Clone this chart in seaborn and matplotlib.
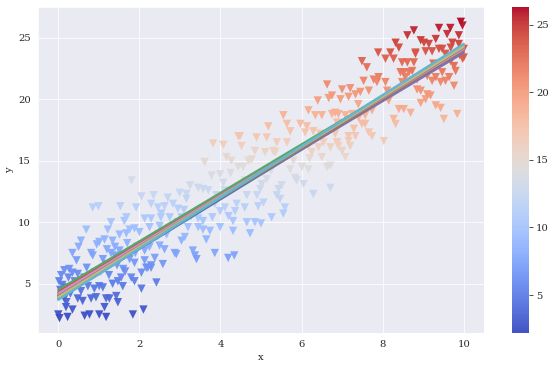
import numpy as np
import matplotlib
matplotlib.use("Agg")
import matplotlib.pyplot as plt
import seaborn as sns

# scatter points (x, y); colour follows y
x_vals = [
    0.00, 0.05, 0.02, 0.07, 0.10, 0.15, 0.15, 0.19, 0.23, 0.27, 0.35, 0.35, 0.35, 0.45, 0.48, 0.48,
    0.56, 0.56, 0.64, 0.69, 0.73, 0.77, 0.81, 0.81, 0.85, 0.85, 0.89, 0.93, 0.99, 0.30, 0.12, 0.60,
    0.40, 0.25, 0.70, 0.90, 0.95, 0.20, 0.65, 0.50, 0.03, 0.17,
    1.01, 1.14, 1.34, 1.01, 1.10, 1.10, 1.18, 1.18, 1.01, 1.18, 1.14, 1.22, 1.26, 1.30, 1.34, 1.39,
    1.43, 1.47, 1.47, 1.51, 1.51, 1.53, 1.59, 1.59, 1.63, 1.68, 1.68, 1.76, 1.76, 1.80, 1.81, 1.84,
    1.88, 1.88, 1.88, 1.92, 1.05, 1.25, 1.40, 1.60, 1.70, 1.95, 1.30, 1.45, 1.55, 1.90, 1.20, 1.65,
    2.05, 2.17, 2.29, 2.13, 2.25, 2.05, 2.13, 2.29, 2.42, 2.21, 2.38, 2.58, 2.50, 2.62, 2.87, 2.91,
    2.46, 2.67, 2.25, 2.50, 2.29, 2.53, 2.75, 2.62, 2.83, 2.95, 2.29, 2.46, 2.54, 2.05, 2.13, 2.00,
    2.10, 2.35, 2.70,
    3.32, 3.37, 3.41, 3.86, 3.04, 3.12, 3.20, 3.45, 3.57, 3.74, 3.99, 2.99, 3.16, 3.16, 3.45, 3.57,
    3.70, 3.78, 3.99, 3.61, 3.82, 3.28, 3.45, 3.57, 3.04, 2.95, 3.86, 3.99, 3.25, 3.50, 3.90, 3.65,
    3.10, 3.80,
    4.19, 4.34, 4.31, 4.07, 4.07, 4.15, 4.27, 4.44, 4.44, 4.11, 4.36, 4.31, 4.20, 4.40, 4.65, 4.85,
    4.60, 4.93, 4.90, 4.65, 4.98, 4.56, 4.77, 4.69, 4.85, 4.52, 4.48, 4.89, 4.73, 4.10, 4.60, 4.25,
    5.26, 5.55, 5.59, 5.06, 5.39, 5.47, 5.43, 5.51, 5.84, 5.88, 5.72, 5.02, 5.14, 5.30, 5.35, 5.10,
    5.14, 5.39, 5.64, 5.18, 5.55, 5.64, 5.72, 5.97, 5.00, 5.80, 5.25,
    6.29, 6.71, 6.05, 6.01, 6.17, 6.63, 6.71, 6.13, 6.09, 6.29, 6.46, 6.54, 6.42, 6.17, 6.25, 6.17,
    6.34, 6.50, 6.75, 6.83, 6.63, 6.67, 6.75, 6.88, 6.83, 6.88, 6.71, 6.50, 6.20, 6.87, 6.91, 6.91,
    6.96, 6.40,
    7.08, 7.00, 7.20, 7.16, 7.16, 7.33, 7.29, 7.49, 7.57, 7.66, 7.74, 7.08, 7.25, 7.41, 7.57, 7.74,
    7.16, 7.33, 7.45, 7.66, 7.00, 7.20, 7.53, 7.78, 7.86, 7.90, 7.49, 7.61, 7.89, 7.40,
    8.03, 8.27, 8.32, 8.40, 8.52, 8.69, 8.94, 8.07, 8.11, 8.15, 8.07, 8.19, 8.27, 8.32, 8.40, 8.48,
    8.61, 8.77, 8.81, 8.44, 8.52, 8.65, 8.73, 8.85, 8.56, 8.48, 8.61, 8.77, 8.94, 8.81, 8.85, 8.94,
    9.51, 9.84, 9.06, 9.18, 9.31, 9.43, 9.02, 9.14, 9.31, 9.39, 9.59, 9.67, 9.39, 9.72, 9.88, 9.93,
    9.97, 9.06, 9.22, 9.47, 9.68, 9.88, 10.00, 9.55, 9.60, 9.68, 9.76, 9.80, 9.97, 10.00, 9.10, 9.22,
    9.31, 9.43, 9.55, 9.64, 9.76, 9.47, 9.10, 9.90, 9.25,
]
y_vals = [
    2.5, 4.5, 5.2, 5.7, 4.9, 6.1, 3.8, 3.1, 2.3, 6.2, 5.9, 2.9, 7.5, 6.9, 5.8, 3.8,
    4.4, 8.5, 5.5, 9.4, 4.8, 2.5, 7.5, 3.8, 7.3, 11.2, 4.6, 3.9, 11.3, 4.2, 4.0, 3.6,
    5.2, 5.5, 6.3, 5.9, 8.2, 3.5, 2.4, 8.0, 2.2, 4.7,
    8.4, 8.6, 8.5, 4.8, 4.7, 7.0, 6.6, 3.8, 2.5, 2.3, 3.1, 9.4, 3.8, 7.5, 5.0, 7.3,
    4.0, 5.2, 3.5, 7.7, 9.0, 11.3, 7.3, 4.8, 10.1, 10.4, 9.1, 7.0, 9.4, 5.5, 13.4, 2.5,
    9.5, 6.7, 5.2, 11.2, 6.0, 5.7, 8.0, 6.2, 8.3, 8.0, 10.0, 6.5, 5.5, 7.5, 7.8, 6.0,
    5.9, 6.3, 6.5, 7.7, 8.0, 4.6, 6.9, 6.3, 5.1, 6.3, 7.1, 6.6, 8.1, 7.8, 7.5, 7.4,
    8.9, 9.0, 9.6, 9.7, 10.3, 10.4, 10.4, 11.3, 11.5, 11.1, 11.5, 11.2, 10.7, 12.1, 10.3, 9.2,
    2.9, 12.2, 12.0,
    7.7, 7.3, 7.0, 7.5, 8.5, 8.8, 9.6, 9.6, 9.4, 9.3, 9.6, 12.4, 12.3, 11.9, 12.8, 12.7,
    12.6, 13.8, 13.9, 14.9, 16.4, 10.5, 10.3, 10.1, 10.4, 10.0, 11.5, 10.9, 13.0, 11.0, 12.2, 8.6,
    11.0, 10.4,
    7.1, 7.3, 10.1, 13.2, 16.3, 15.3, 15.0, 14.5, 17.0, 11.2, 10.9, 9.3, 10.5, 11.5, 10.0, 10.0,
    11.2, 11.3, 12.2, 12.2, 12.7, 14.5, 15.1, 15.0, 15.8, 16.2, 17.0, 16.9, 9.1, 12.6, 13.4, 14.0,
    10.4, 10.7, 11.2, 11.6, 12.2, 11.9, 12.7, 13.0, 13.6, 13.4, 14.3, 13.1, 13.5, 15.8, 15.7, 15.7,
    16.9, 16.5, 16.5, 17.8, 18.7, 18.0, 17.4, 18.0, 9.9, 15.0, 14.2,
    12.3, 12.8, 13.1, 14.5, 14.3, 14.5, 14.6, 17.8, 17.3, 17.4, 17.2, 16.5, 16.1, 16.2, 15.7, 19.1,
    18.7, 18.7, 18.8, 18.9, 21.2, 20.1, 20.3, 18.1, 17.2, 16.5, 16.1, 15.3, 15.2, 16.5, 16.2, 18.8,
    20.0, 19.9,
    15.3, 15.8, 16.2, 16.6, 17.0, 17.0, 17.6, 18.0, 18.0, 17.3, 17.0, 18.7, 18.8, 18.5, 18.7, 19.1,
    20.2, 20.4, 20.6, 20.7, 20.8, 20.9, 21.5, 21.6, 21.4, 21.8, 23.1, 22.6, 23.8, 19.6,
    16.6, 18.4, 18.0, 19.2, 19.2, 18.9, 19.7, 21.4, 20.7, 19.9, 23.3, 23.8, 23.3, 24.6, 24.2, 23.0,
    23.0, 23.0, 23.8, 22.2, 22.2, 22.2, 22.3, 21.6, 21.8, 21.4, 25.2, 25.6, 24.8, 23.7, 20.8, 20.7,
    18.4, 18.8, 20.0, 20.3, 19.5, 19.3, 24.6, 24.5, 24.9, 24.1, 25.3, 25.8, 25.8, 24.6, 25.2, 26.3,
    26.0, 23.9, 23.9, 24.1, 24.2, 24.5, 24.1, 23.7, 23.3, 23.1, 22.7, 22.3, 23.3, 23.4, 21.9, 21.5,
    21.8, 21.4, 21.5, 21.8, 21.1, 22.2, 20.4, 23.6, 22.9,
]

# fitted lines: value at x=0 and slope, one per palette colour
fit_intercepts = [3.80, 4.00, 4.50, 4.30, 4.10, 4.00, 4.20, 4.00, 3.90, 3.70]
fit_slopes = [2.02, 2.01, 1.97, 1.97, 1.97, 2.00, 1.99, 2.02, 2.04, 2.08]

sns.set_style("darkgrid")
plt.rcParams['font.family'] = ['DejaVu Serif']
plt.rcParams['font.size'] = 10

fig = plt.figure(figsize=(557 / 72, 367 / 72), dpi=72)
ax = fig.add_axes([38 / 557, 34 / 367, 446 / 557, 326 / 367])
cax = fig.add_axes([512 / 557, 34 / 367, 17 / 557, 326 / 367])

x = np.array(x_vals)
y = np.array(y_vals)
sc = ax.scatter(x, y, c=y, cmap='coolwarm', marker='v', s=70, linewidths=0, alpha=0.95)

palette = sns.color_palette("deep", len(fit_intercepts))
xs = np.array([x.min(), x.max()])
for b, m, col in zip(fit_intercepts, fit_slopes, palette):
    sns.lineplot(x=xs, y=b + m * xs, color=col, lw=2.5, ax=ax)

ax.set_xlabel('x')
ax.set_ylabel('y')
ax.set_yticks([5, 10, 15, 20, 25])

cb = fig.colorbar(sc, cax=cax)
cb.outline.set_visible(False)
cb.set_ticks([5, 10, 15, 20, 25])

plt.savefig('out.png', dpi=72)
